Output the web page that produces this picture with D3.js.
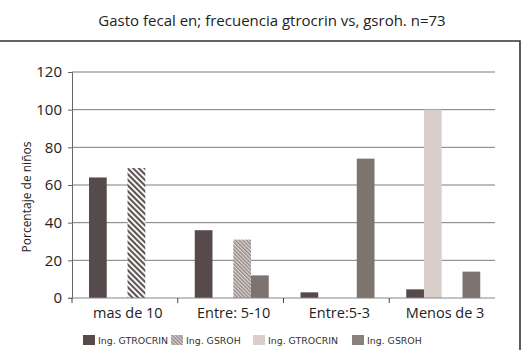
<!DOCTYPE html>
<html>
<head>
<meta charset="utf-8">
<script src="https://cdn.jsdelivr.net/npm/d3@7"></script>
<style>
  body { margin: 0; background: #fff; }
  svg { display: block; font-family: "Open Sans", sans-serif; }
</style>
</head>
<body>
<svg id="chart" width="530" height="350"></svg>
<script>
// chart data
const categories = ['mas de 10', 'Entre: 5-10', 'Entre:5-3', 'Menos de 3'];
const seriesNames = ['Ing. GTROCRIN', 'Ing. GSROH', 'Ing. GTROCRIN', 'Ing. GSROH'];
// order of bars inside each group (dark, light, hatched, gray)
const darkVals = [64, 36, 3, 4.6];
const hatchVals = [69, 31, 0, 0];
const lightVals = [0, 0, 0, 100];
const grayVals = [0, 12, 74, 14];
const yTicks = [0, 20, 40, 60, 80, 100, 120];

const svg = d3.select('#chart');
const m = { left: 72, right: 495, top: 72, bottom: 298 };

// patterns for the hatched series
const defs = svg.append('defs');
const pA = defs.append('pattern').attr('id', 'hatchA')
  .attr('patternUnits', 'userSpaceOnUse').attr('width', 4).attr('height', 4)
  .attr('patternTransform', 'rotate(-45)');
pA.append('rect').attr('width', 4).attr('height', 4).attr('fill', '#fff');
pA.append('rect').attr('width', 2.1).attr('height', 4).attr('fill', '#5e5454');

const pB = defs.append('pattern').attr('id', 'hatchB')
  .attr('patternUnits', 'userSpaceOnUse').attr('width', 2.6).attr('height', 2.6)
  .attr('patternTransform', 'rotate(-45)');
pB.append('rect').attr('width', 2.6).attr('height', 2.6).attr('fill', '#ddd6d3');
pB.append('rect').attr('width', 1.3).attr('height', 2.6).attr('fill', '#8f8582');

const hatchByCat = ['url(#hatchA)', 'url(#hatchB)', 'url(#hatchA)', 'url(#hatchA)'];

const series = [
  { name: seriesNames[0], values: darkVals, fill: () => '#564a4b', pair: 0 },
  { name: seriesNames[2], values: lightVals, fill: () => '#d9cec9', pair: 0 },
  { name: seriesNames[1], values: hatchVals, fill: i => hatchByCat[i], pair: 1 },
  { name: seriesNames[3], values: grayVals, fill: () => '#7d736f', pair: 1 }
];

const x0 = d3.scaleBand().domain(categories).range([m.left, m.right]);
const xPair = d3.scaleBand().domain([0, 1]).range([17, 91]).paddingInner(0.08);
const xIn = d3.scaleBand().domain([0, 1]).range([0, xPair.bandwidth()]);
const y = d3.scaleLinear().domain([0, 120]).range([m.bottom, m.top]);

// frame (top + right only)
svg.append('path')
  .attr('d', 'M0,41H520V350')
  .attr('fill', 'none').attr('stroke', '#333').attr('stroke-width', 1.6);

// title
svg.append('text')
  .attr('x', 272).attr('y', 26)
  .attr('text-anchor', 'middle')
  .attr('font-size', 15).attr('fill', '#222')
  .text('Gasto fecal en; frecuencia gtrocrin vs, gsroh. n=73');

// gridlines
svg.append('g').selectAll('line').data(yTicks.filter(d => d > 0)).join('line')
  .attr('x1', m.left).attr('x2', m.right)
  .attr('y1', d => y(d)).attr('y2', d => y(d))
  .attr('stroke', '#7c7c7c').attr('stroke-width', 1);

// y axis
const yAxis = svg.append('g')
  .attr('transform', `translate(${m.left},0)`)
  .call(d3.axisLeft(y).tickValues(yTicks).tickSize(4).tickPadding(6));
yAxis.select('.domain').attr('stroke', '#666');
yAxis.selectAll('.tick line').attr('stroke', '#666');
yAxis.selectAll('text').attr('font-size', 15).attr('fill', '#222')
  .attr('font-family', '"Open Sans", sans-serif');

svg.append('text')
  .attr('transform', `translate(31,197) rotate(-90)`)
  .attr('text-anchor', 'middle')
  .attr('font-size', 12).attr('fill', '#222')
  .text('Porcentaje de niños');

// bars
const groups = svg.append('g').selectAll('g').data(categories).join('g')
  .attr('transform', d => `translate(${x0(d)},0)`);

series.forEach((s, si) => {
  const inner = si % 2;
  groups.append('rect')
    .attr('x', 0)
    .attr('transform', `translate(${xPair(s.pair) + xIn(inner)},0)`)
    .attr('width', xIn.bandwidth())
    .attr('y', (d, i) => y(s.values[i]))
    .attr('height', (d, i) => y(0) - y(s.values[i]))
    .attr('fill', (d, i) => s.fill(i));
});

// x axis
const xAxis = svg.append('g')
  .attr('transform', `translate(0,${m.bottom})`);
xAxis.append('line')
  .attr('x1', m.left - 4).attr('x2', m.right)
  .attr('stroke', '#888').attr('stroke-width', 1.2);
xAxis.selectAll('line.tk').data(categories.slice(1).concat(['_start'])).join('line')
  .attr('class', 'tk')
  .attr('x1', d => d === '_start' ? m.left : x0(d))
  .attr('x2', d => d === '_start' ? m.left : x0(d))
  .attr('y1', 0).attr('y2', 5)
  .attr('stroke', '#444');
xAxis.selectAll('text').data(categories).join('text')
  .attr('x', d => x0(d) + x0.bandwidth() / 2 + 3)
  .attr('y', 20)
  .attr('text-anchor', 'middle')
  .attr('font-size', 14.5).attr('fill', '#222')
  .text(d => d);

// legend
const legendItems = [
  { label: seriesNames[0], fill: '#564a4b', x: 83 },
  { label: seriesNames[1], fill: 'url(#hatchB)', x: 171 },
  { label: seriesNames[2], fill: '#d9cec9', x: 253 },
  { label: seriesNames[3], fill: '#8a807c', x: 352 }
];
const lg = svg.append('g').selectAll('g').data(legendItems).join('g')
  .attr('transform', d => `translate(${d.x},335)`);
lg.append('rect').attr('width', 12).attr('height', 10).attr('fill', d => d.fill);
lg.append('text')
  .attr('x', 15).attr('y', 9)
  .attr('font-family', '"DejaVu Sans", sans-serif')
  .attr('font-size', 9.4).attr('fill', '#333')
  .text(d => d.label);
</script>
</body>
</html>
